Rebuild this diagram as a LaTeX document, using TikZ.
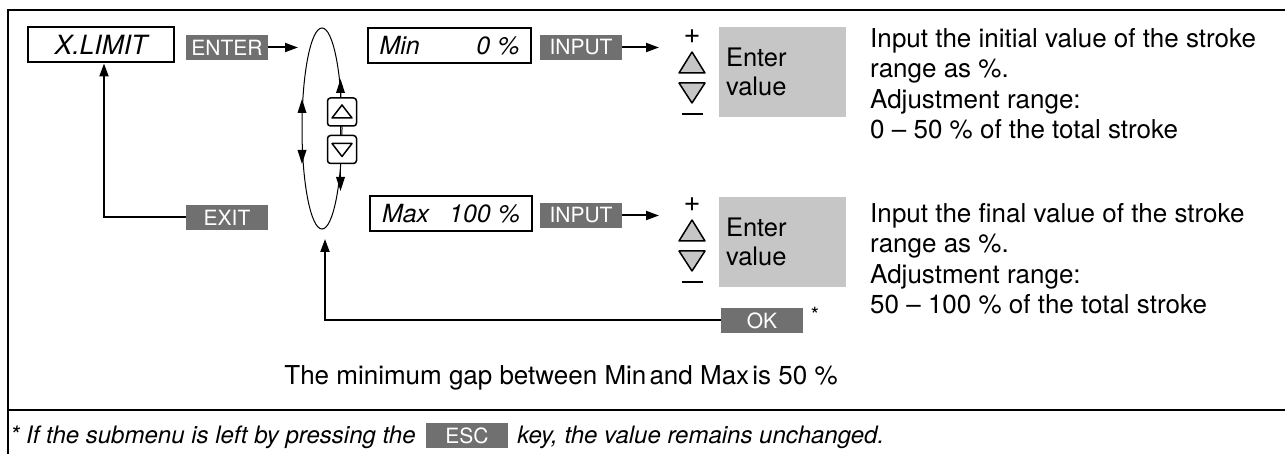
\documentclass[tikz,border=0pt]{standalone}
\usepackage{fontspec}
\setmainfont{TeX Gyre Heros}
\usetikzlibrary{arrows.meta,shapes.geometric}
\definecolor{keygray}{HTML}{707070}
\definecolor{valgray}{HTML}{C6C6C6}
\begin{document}
\begin{tikzpicture}[x=1pt,y=-1pt,
  key/.style={fill=keygray,text=white,minimum width=82pt,minimum height=25pt,inner sep=0pt,font=\fontsize{21}{21}\selectfont},
  menubox/.style={draw,line width=2pt,minimum height=35pt,inner sep=0pt,font=\fontsize{25}{25}\selectfont\itshape},
  valbox/.style={fill=valgray,minimum width=127pt,minimum height=90pt,inner xsep=7pt,inner ysep=0pt,text width=113pt,align=left,font=\fontsize{25.5}{29.5}\selectfont},
  conn/.style={line width=2pt,-{Triangle[length=13pt,width=9pt]}},
  body/.style={font=\fontsize{26}{30.5}\selectfont,align=left,inner sep=0pt,anchor=north west},
  btn/.style={draw,rounded corners=3pt,fill=white,line width=1.5pt,minimum width=29pt,minimum height=28pt,inner sep=0pt},
  frame/.style={line width=1.5pt},
  adjuster/.pic={
    \node[font=\fontsize{29}{29}\selectfont,inner sep=0pt] at (0,0) {+};
    \draw[fill=valgray,line width=1.5pt,line join=round] (-13,36) -- (13,36) -- (0,15) -- cycle;
    \draw[fill=valgray,line width=1.5pt,line join=round] (-13,46) -- (13,46) -- (0,66) -- cycle;
    \draw[line width=2.5pt] (-10,77) -- (11,77);
  }
]
\useasboundingbox (0,0) rectangle (1285,454);
% frame
\draw[frame] (1290,10) -- (8,10) -- (8,460);
\draw[frame] (8,410) -- (1290,410);

% left part
\node[menubox,font=\fontsize{26.5}{26.5}\selectfont\itshape,minimum width=146pt] (xlimit) at (101,45) {X.LIMIT};
\node[key] (enter) at (227,47.5) {ENTER};
\coordinate (enterEnd) at (298,47.5);
\draw[conn] (enter) -- (enterEnd);

\node[key] (exit) at (227,217.5) {EXIT};
\draw[conn] (exit.west) -| ([xshift=3pt]xlimit.south);

% selection ellipse
\node[draw,ellipse,line width=1pt,minimum width=40pt,minimum height=201pt,inner sep=0pt] (menu) at (322,128.5) {};
\fill (302,99) -- (297.5,113) -- (306.5,113) -- cycle;
\fill (302,164) -- (297.5,150) -- (306.5,150) -- cycle;
\fill (340.5,79) -- (336,93) -- (345,93) -- cycle;
\fill (340.5,191) -- (336,177) -- (345,177) -- cycle;
\draw[line width=1pt] (340.5,92) -- (340.5,178);
\node[btn] (btnup) at (342,112) {};
\node[btn] (btndown) at (342,149.5) {};
\draw[line width=1.5pt,line join=round] ([shift={(-10,6)}]btnup.center) -- ([shift={(10,6)}]btnup.center) -- ([shift={(0,-7)}]btnup.center) -- cycle;
\draw[line width=1.5pt,line join=round] ([shift={(-10,-6)}]btndown.center) -- ([shift={(10,-6)}]btndown.center) -- ([shift={(0,7)}]btndown.center) -- cycle;

% Min row
\node[menubox,minimum width=163pt] (min) at (449.5,45.5) {\makebox[140pt]{Min\hfill 0 \%}};
\node[key] (input1) at (581,47.5) {INPUT};
\coordinate (input1End) at (659,47.5);
\draw[conn] (input1) -- (input1End);
\pic at (692,37) {adjuster};
\node[valbox] (val1) at (782.5,72) {Enter\\value};
\node[body] (desc1) at (870,28) {Input the initial value of the stroke\\range as \%.\\Adjustment range:\\0 – 50 \% of the total stroke};

% Max row
\node[menubox,minimum width=162pt] (max) at (451,214) {\makebox[138pt]{Max\hfill 100 \%}};
\node[key] (input2) at (581,215.5) {INPUT};
\coordinate (input2End) at (659,215.5);
\draw[conn] (input2) -- (input2End);
\pic at (692,205) {adjuster};
\node[valbox] (val2) at (782.5,242) {Enter\\value};
\node[body] (desc2) at (870,203) {Input the final value of the stroke\\range as \%.\\Adjustment range:\\50 – 100 \% of the total stroke};

% OK
\node[key] (ok) at (762,320.5) {OK};
\node[font=\fontsize{21}{21}\selectfont,inner sep=0pt] (star) at (815,315) {*};
\coordinate (okEnd) at (325,239);
\draw[conn] (ok.west) -| (okEnd);

% note
\node[font=\fontsize{26}{30}\selectfont,inner sep=0pt] (gap) at (561,378) {The minimum gap between Min\hspace{0.12em}and Max\hspace{0.12em}is 50 \%};

% footnote
\node[font=\fontsize{24}{28}\selectfont\itshape,inner sep=0pt,anchor=base west] (fnA) at (10,443) {* If the submenu is left by pressing the};
\node[key,anchor=west] (esc) at ([xshift=10pt]fnA.east |- 0,435.5) {ESC};
\node[font=\fontsize{24}{28}\selectfont\itshape,inner sep=0pt,anchor=base west] (fnB) at ([xshift=9pt]esc.east |- fnA.base) {key, the value remains unchanged.};
\end{tikzpicture}
\end{document}
